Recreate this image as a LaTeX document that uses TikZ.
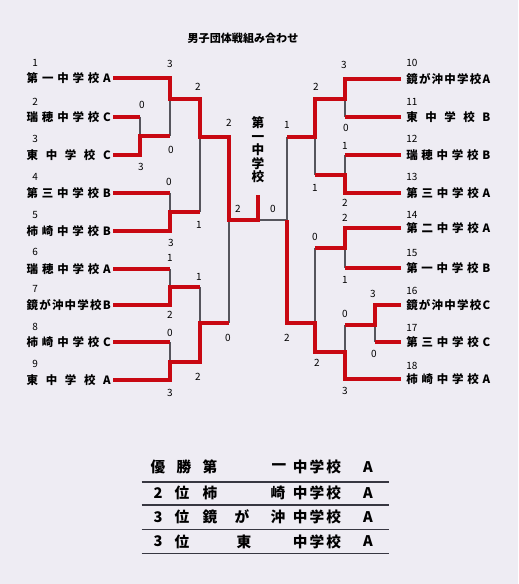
\documentclass[tikz,border=0pt]{standalone}
\usepackage{fontspec}
\setmainfont{Noto Sans CJK JP}
\definecolor{bgc}{RGB}{238,236,243}
\definecolor{winc}{RGB}{200,8,18}
\definecolor{thinc}{RGB}{85,85,92}
\definecolor{rulec}{RGB}{55,55,65}
\newcommand\nm[1]{\makebox[63pt][s]{#1}}
\newcommand\hs{\hfill}
\begin{document}
\begin{tikzpicture}[x=0.75pt,y=-0.75pt,
  winline/.style={draw=winc,line width=2.4pt},
  loseline/.style={draw=thinc,line width=0.8pt},
  teamL/.style={anchor=east,inner xsep=1.5pt,inner ysep=0pt,font=\fontsize{8.6}{8.6}\selectfont\bfseries},
  teamR/.style={anchor=west,inner xsep=3.75pt,inner ysep=0pt,font=\fontsize{8.6}{8.6}\selectfont\bfseries},
  num/.style={anchor=west,inner sep=0pt,font=\fontsize{7.5}{7.5}\selectfont},
  score/.style={inner sep=0pt,font=\fontsize{7.5}{7.5}\selectfont},
  tab/.style={inner sep=0pt,font=\fontsize{11}{11}\selectfont\bfseries},
  rulestyle/.style={draw=rulec,line width=1.2pt}]
\fill[bgc] (0,0) rectangle (518,584);
\useasboundingbox (0,0) rectangle (518,584);

% title
\node[inner sep=0pt,font=\fontsize{8.3}{8.3}\selectfont\bfseries] (title) at (243,38) {男子団体戦組み合わせ};

% left teams
\foreach \i/\y/\tx in {
  1/78/{第\hs 一\hs 中\hs 学\hs 校\hs A},
  2/117/{瑞\hs 穂\hs 中\hs 学\hs 校\hs C},
  3/155/{東\hs 中\hs 学\hs 校\hs C},
  4/193/{第\hs 三\hs 中\hs 学\hs 校\hs B},
  5/231/{柿\hs 崎\hs 中\hs 学\hs 校\hs B},
  6/269/{瑞\hs 穂\hs 中\hs 学\hs 校\hs A},
  7/305/{鏡\hs が\hs 沖\hs 中\hs 学\hs 校\hs B},
  8/342/{柿\hs 崎\hs 中\hs 学\hs 校\hs C},
  9/380/{東\hs 中\hs 学\hs 校\hs A}}
  \node[teamL] (n\i) at (113,\y) {\nm{\tx}};

% right teams
\foreach \i/\y/\tx in {
  10/79/{鏡\hs が\hs 沖\hs 中\hs 学\hs 校\hs A},
  11/117/{東\hs 中\hs 学\hs 校\hs B},
  12/155/{瑞\hs 穂\hs 中\hs 学\hs 校\hs B},
  13/193/{第\hs 三\hs 中\hs 学\hs 校\hs A},
  14/228/{第\hs 二\hs 中\hs 学\hs 校\hs A},
  15/268/{第\hs 一\hs 中\hs 学\hs 校\hs B},
  16/305/{鏡\hs が\hs 沖\hs 中\hs 学\hs 校\hs C},
  17/342/{第\hs 三\hs 中\hs 学\hs 校\hs C},
  18/379/{柿\hs 崎\hs 中\hs 学\hs 校\hs A}}
  \node[teamR] (n\i) at (401,\y) {\nm{\tx}};

% team numbers
\foreach \i/\y in {1/63,2/102,3/139,4/177,5/215,6/252,7/289,8/327,9/364}
  \node[num] (k\i) at (32,\y) {\i};
\foreach \i/\y in {10/63,11/102,12/139,13/177,14/215,15/253,16/291,17/328,18/366}
  \node[num] (k\i) at (406,\y) {\i};

% joints
\coordinate (LA) at (140,136);
\coordinate (LB) at (170,99);
\coordinate (LC) at (170,212);
\coordinate (LD) at (200,137);
\coordinate (LE) at (170,287);
\coordinate (LF) at (170,362);
\coordinate (LG) at (200,323);
\coordinate (LH) at (229,220);
\coordinate (F) at (258,220);
\coordinate (FT) at (258,195);
\coordinate (RA) at (345,99);
\coordinate (RB) at (345,175);
\coordinate (RC) at (315,137);
\coordinate (RD) at (345,248);
\coordinate (RE) at (375,325);
\coordinate (RF) at (345,352);
\coordinate (RG) at (315,323);
\coordinate (RH) at (287,220);

% losing (thin) segments
\draw[loseline] (n2.east -| LA) -- (LA);
\draw[loseline] (LB) -- (LB |- LA);
\draw[loseline] (n4.east -| LC) -- (LC);
\draw[loseline] (LD) -- (LD |- LC);
\draw[loseline] (n6.east -| LE) -- (LE);
\draw[loseline] (LE -| LG) -- (LG);
\draw[loseline] (n8.east -| LF) -- (LF);
\draw[loseline] (LH) -- (LH |- LG);
\draw[loseline] (F) -- (RH);
\draw[loseline] (RA) -- (RA |- n11.west);
\draw[loseline] (RC) -- (RC |- RB);
\draw[loseline] (n12.west -| RB) -- (RB);
\draw[loseline] (RD) -- (RD |- n15.west);
\draw[loseline] (RD -| RG) -- (RG);
\draw[loseline] (RE) -- (RE |- n17.west);
\draw[loseline] (RE -| RF) -- (RF);
\draw[loseline] (RH) -- (RH |- RC);

% winning (red) segments, left
\draw[winline] (n1.east) -| (LB) -| (LD) -| (LH) -| (F) -- (FT);
\draw[winline] (n2.east) -- (n2.east -| LA);
\draw[winline] (n3.east) -| (LA) -- (LA -| LB);
\draw[winline] (n4.east) -- (n4.east -| LC);
\draw[winline] (n5.east) -| (LC) -- (LC -| LD);
\draw[winline] (n6.east) -- (n6.east -| LE);
\draw[winline] (n7.east) -| (LE) -- (LE -| LG);
\draw[winline] (n8.east) -- (n8.east -| LF);
\draw[winline] (n9.east) -| (LF) -| (LG) -- (LG -| LH);

% winning (red) segments, right
\draw[winline] (n10.west) -| (RA) -| (RC) -- (RC -| RH);
\draw[winline] (n11.west) -- (n11.west -| RA);
\draw[winline] (n12.west) -- (n12.west -| RB);
\draw[winline] (n13.west) -| (RB) -- (RB -| RC);
\draw[winline] (n14.west) -| (RD) -- (RD -| RG);
\draw[winline] (n15.west) -- (n15.west -| RD);
\draw[winline] (n16.west) -| (RE) -- (RE -| RF);
\draw[winline] (n17.west) -- (n17.west -| RE);
\draw[winline] (n18.west) -| (RF) -| (RG) -| (RH);

% champion
\node[inner sep=0pt,align=center,font=\fontsize{9.5}{10.1}\selectfont\bfseries] (champ) at (258,150) {第\\一\\中\\学\\校};

% scores
\foreach \x/\y/\tx [count=\i] in {
  170/64/3, 198/87/2, 142/105/0, 229/123/2, 171/150/0, 141/167/3,
  169/182/0, 238/209/2, 199/225/1, 171/243/3, 170/258/1, 199/277/1,
  170/315/2, 170/333/0, 228/338/0, 198/377/2, 170/393/3,
  273/209/0,
  344/65/3, 316/87/2, 287/125/1, 346/128/0, 345/146/1, 315/188/1,
  345/203/2, 345/218/2, 315/237/0, 345/280/1, 373/294/3, 345/314/0,
  287/338/2, 374/354/0, 317/363/2, 345/391/3}
  \node[score] (s\i) at (\x,\y) {\tx};

% result table
\foreach \x/\y/\tx [count=\i] in {
  158/467/優, 184/467/勝, 210/467/第, 279/467/一, 317/467/{中\kern1.6pt 学\kern1.6pt 校}, 368/467/A,
  158/493/2, 182/493/位, 210/493/柿, 278/493/崎, 317/493/{中\kern1.6pt 学\kern1.6pt 校}, 368/493/A,
  158/517/3, 182/517/位, 210/517/鏡, 242/517/が, 278/517/沖, 317/517/{中\kern1.6pt 学\kern1.6pt 校}, 368/517/A,
  158/541.5/3, 182/541.5/位, 244/541.5/東, 317/541.5/{中\kern1.6pt 学\kern1.6pt 校}, 368/541.5/A}
  \node[tab] (t\i) at (\x,\y) {\tx};

\foreach \y in {481.7,505,529.3,553.3}
  \draw[rulestyle] (141.7,\y) -- (389,\y);
\end{tikzpicture}
\end{document}
